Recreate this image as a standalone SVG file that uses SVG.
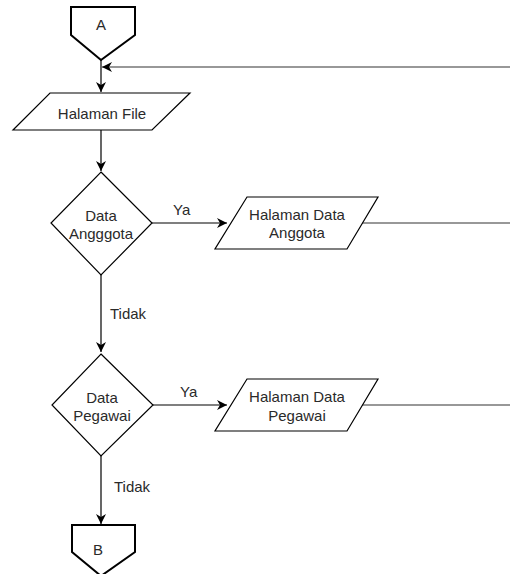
<svg xmlns="http://www.w3.org/2000/svg" width="510" height="574" viewBox="0 0 510 574">
<defs>
<style>
.s{fill:#fff;stroke:#000;stroke-width:1.2}
.p{fill:#fff;stroke:#000;stroke-width:2}
.c{fill:none;stroke:#000;stroke-width:1.2}
.g{fill:none;stroke:#333;stroke-width:1.2}
text{font-family:"Liberation Sans",Arial,sans-serif;font-size:15px;fill:#2a2a2a;text-anchor:middle}
.l{text-anchor:start}
</style>
<marker id="ah" viewBox="0 0 10 10" refX="10" refY="5" markerWidth="10" markerHeight="10" markerUnits="userSpaceOnUse" orient="auto">
<path d="M0,0 L10,5 L0,10 L3,5 Z" fill="#000"/>
</marker>
</defs>
<rect width="510" height="574" fill="#fff"/>
<g id="connectors">
<path class="c" d="M101,60 V92" marker-end="url(#ah)"/>
<path class="g" d="M510,67 H102" marker-end="url(#ah)"/>
<path class="c" d="M101,130 V171" marker-end="url(#ah)"/>
<path class="c" d="M152,223 H227" marker-end="url(#ah)"/>
<path class="g" d="M362,223 H510"/>
<path class="c" d="M101,275 V352" marker-end="url(#ah)"/>
<path class="c" d="M153,405 H227" marker-end="url(#ah)"/>
<path class="g" d="M362,405 H510"/>
<path class="c" d="M101,456 V524" marker-end="url(#ah)"/>
<text class="l" x="173" y="215">Ya</text>
<text class="l" x="180" y="397">Ya</text>
<text class="l" x="110" y="319">Tidak</text>
<text class="l" x="114" y="492">Tidak</text>
</g>
<g id="A">
<path class="p" d="M71,7 H135 V35 L101,60 L71,35 Z"/>
<text x="101" y="30">A</text>
</g>
<g id="halaman-file">
<path class="s" d="M50,93 H190 L152,130 H13 Z"/>
<text x="102" y="119">Halaman File</text>
</g>
<g id="data-anggota">
<path class="s" d="M101,172 L152,223 L101,275 L51,223 Z"/>
<text x="101" y="221">Data</text>
<text x="101" y="239">Angggota</text>
</g>
<g id="halaman-data-anggota">
<path class="s" d="M247,197 H378 L347,249 H215 Z"/>
<text x="297" y="220">Halaman Data</text>
<text x="297" y="238">Anggota</text>
</g>
<g id="data-pegawai">
<path class="s" d="M101,354 L153,405 L101,456 L52,405 Z"/>
<text x="102" y="403">Data</text>
<text x="102" y="421">Pegawai</text>
</g>
<g id="halaman-data-pegawai">
<path class="s" d="M247,379 H378 L347,431 H215 Z"/>
<text x="297" y="402">Halaman Data</text>
<text x="297" y="421">Pegawai</text>
</g>
<g id="B">
<path class="p" d="M72,525 H135 V552 L101,576 L72,552 Z"/>
<text x="98" y="555">B</text>
</g>
</svg>
